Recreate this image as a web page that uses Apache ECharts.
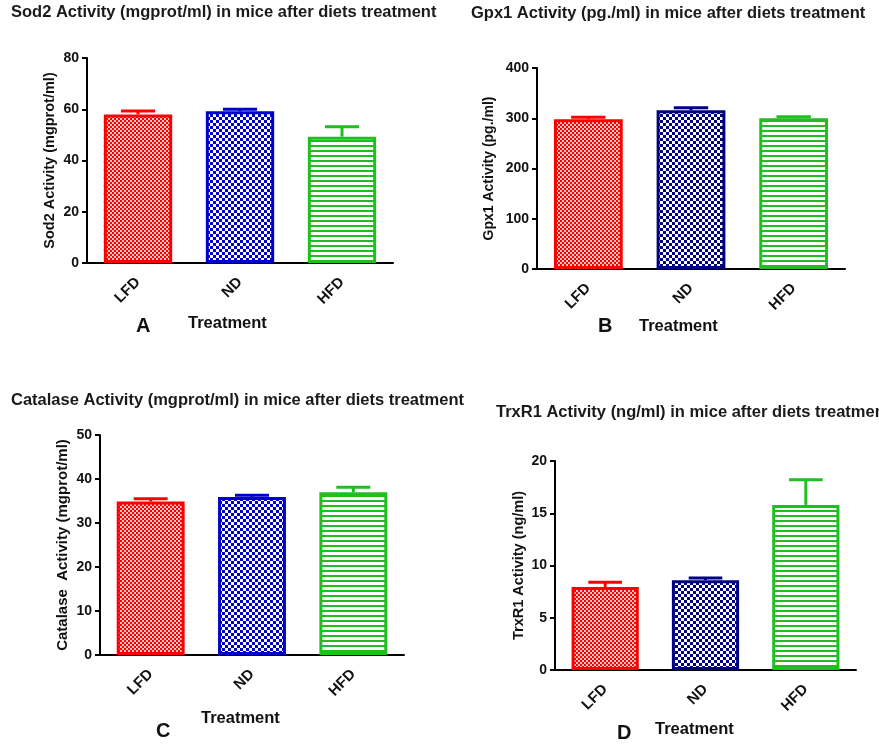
<!DOCTYPE html>
<html>
<head>
<meta charset="utf-8">
<title>Enzyme activity in mice after diets treatment</title>
<script src="https://cdn.jsdelivr.net/npm/echarts@6.0.0/dist/echarts.min.js"></script>
<style>
  html, body { margin: 0; padding: 0; background: #fff; }
  #chart { width: 879px; height: 744px; }
</style>
</head>
<body>
<div id="chart"></div>
<script>
  // groups on the x axis
  var diets = ['LFD', 'ND', 'HFD']

  // mean and SEM
  var sod2Mean = [58.0, 59.2, 49.3]
  var sod2Err = [1.3, 0.8, 3.9]
  var gpx1Mean = [298, 316, 300]
  var gpx1Err = [4, 5, 3]
  var catMean = [34.9, 35.9, 37.0]
  var catErr = [0.6, 0.4, 1.1]
  var trxMean = [7.95, 8.6, 15.8]
  var trxErr = [0.45, 0.2, 2.4]

  // y axis range: [max, step]
  var sod2Axis = [80, 20]
  var gpx1Axis = [400, 100]
  var catAxis = [50, 10]
  var trxAxis = [20, 5]

  var FONT = '"Liberation Sans", Arial, sans-serif'
  var RED = '#ff0000'
  var GREEN = '#1fbf1f'

  // fill patterns like the graphpad bars
  function checker (color, back, cell) {
    var c = document.createElement('canvas')
    c.width = c.height = cell * 2
    var ctx = c.getContext('2d')
    ctx.fillStyle = back
    ctx.fillRect(0, 0, cell * 2, cell * 2)
    ctx.fillStyle = color
    ctx.fillRect(0, 0, cell, cell)
    ctx.fillRect(cell, cell, cell, cell)
    return {image: c, repeat: 'repeat'}
  }
  function hlines (color, period, thick) {
    var c = document.createElement('canvas')
    c.width = 4
    c.height = period
    var ctx = c.getContext('2d')
    ctx.fillStyle = '#fff'
    ctx.fillRect(0, 0, 4, period)
    ctx.fillStyle = color
    ctx.fillRect(0, 0, 4, thick)
    return {image: c, repeat: 'repeat'}
  }

  var panels = [
    {title: 'Sod2 Activity (mgprot/ml) in mice after diets treatment', yName: 'Sod2 Activity (mgprot/ml)',
      mean: sod2Mean, err: sod2Err, axis: sod2Axis, blue: '#0000cc', nameSize: 14.5, nameGap: 30,
      grid: {left: 87, top: 58, width: 306, height: 205},
      titlePos: [11, 4], letter: 'A', letterPos: [136, 316], xNamePos: [188, 315]},
    {title: 'Gpx1 Activity (pg./ml) in mice after diets treatment', yName: 'Gpx1 Activity (pg./ml)',
      mean: gpx1Mean, err: gpx1Err, axis: gpx1Axis, blue: '#000080', nameSize: 14, nameGap: 41,
      grid: {left: 537, top: 68, width: 308, height: 201},
      titlePos: [471, 5], letter: 'B', letterPos: [598, 316], xNamePos: [639, 318]},
    {title: 'Catalase Activity (mgprot/ml) in mice after diets treatment', yName: 'Catalase  Activity (mgprot/ml)',
      mean: catMean, err: catErr, axis: catAxis, blue: '#0000cc', nameSize: 15, nameGap: 30,
      grid: {left: 100, top: 435, width: 304, height: 220},
      titlePos: [11, 392], letter: 'C', letterPos: [156, 721], xNamePos: [201, 710]},
    {title: 'TrxR1 Activity (ng/ml) in mice after diets treatment', yName: 'TrxR1 Activity (ng/ml)',
      mean: trxMean, err: trxErr, axis: trxAxis, blue: '#000080', nameSize: 14.5, nameGap: 29,
      grid: {left: 555, top: 461, width: 301, height: 209},
      titlePos: [496, 404], letter: 'D', letterPos: [617, 723], xNamePos: [655, 721]}
  ]

  // upper error bar only (stem + cap)
  function renderErr (params, api) {
    var idx = api.value(0)
    var base = api.coord([idx, api.value(1)])
    var top = api.coord([idx, api.value(2)])
    var half = api.size([1, 0])[0] * 0.67 * 0.25
    var style = {stroke: api.visual('color'), lineWidth: 3}
    return {
      type: 'group',
      children: [
        {type: 'line', shape: {x1: base[0], y1: base[1], x2: top[0], y2: top[1]}, style: style},
        {type: 'line', shape: {x1: top[0] - half, y1: top[1], x2: top[0] + half, y2: top[1]}, style: style}
      ]
    }
  }

  var option = {
    animation: false,
    backgroundColor: '#fff',
    title: [],
    grid: [],
    xAxis: [],
    yAxis: [],
    series: []
  }

  panels.forEach(function (p, k) {
    var colors = [RED, p.blue, GREEN]
    var fills = [checker(RED, '#ffc4c4', 2), checker(p.blue, '#fff', 3), hlines(GREEN, 5, 2)]

    option.title.push(
      {text: p.title, left: p.titlePos[0], top: p.titlePos[1], padding: 0,
        textStyle: {fontFamily: FONT, fontSize: 16.5, fontWeight: 'bold', color: '#1a1a1a'}},
      {text: p.letter, left: p.letterPos[0], top: p.letterPos[1], padding: 0,
        textStyle: {fontFamily: FONT, fontSize: 20, fontWeight: 'bold', color: '#111'}},
      {text: 'Treatment', left: p.xNamePos[0], top: p.xNamePos[1], padding: 0,
        textStyle: {fontFamily: FONT, fontSize: 16.5, fontWeight: 'bold', color: '#111'}}
    )

    option.grid.push(p.grid)

    option.xAxis.push({
      type: 'category',
      gridIndex: k,
      data: diets,
      axisLine: {lineStyle: {color: '#000', width: 2}},
      axisTick: {alignWithLabel: true, length: 6, lineStyle: {color: '#000', width: 2}},
      axisLabel: {rotate: 45, margin: 17, color: '#111', fontFamily: FONT, fontSize: 15, fontWeight: 'bold'},
      splitLine: {show: false}
    })

    option.yAxis.push({
      type: 'value',
      gridIndex: k,
      min: 0,
      max: p.axis[0],
      interval: p.axis[1],
      name: p.yName,
      nameLocation: 'middle',
      nameGap: p.nameGap,
      nameTextStyle: {fontFamily: FONT, fontSize: p.nameSize, fontWeight: 'bold', color: '#111'},
      axisLine: {show: true, lineStyle: {color: '#000', width: 2}},
      axisTick: {show: true, length: 5, lineStyle: {color: '#000', width: 2}},
      axisLabel: {margin: 8, color: '#111', fontFamily: FONT, fontSize: 14, fontWeight: 'bold'},
      splitLine: {show: false}
    })

    option.series.push({
      type: 'bar',
      xAxisIndex: k,
      yAxisIndex: k,
      barWidth: '67%',
      z: 2,
      data: p.mean.map(function (v, i) {
        return {value: v, itemStyle: {color: fills[i], borderColor: colors[i], borderWidth: 3}}
      })
    })

    option.series.push({
      type: 'custom',
      xAxisIndex: k,
      yAxisIndex: k,
      z: 3,
      renderItem: renderErr,
      data: p.mean.map(function (v, i) {
        return {value: [i, v, v + p.err[i]], itemStyle: {color: colors[i]}}
      })
    })
  })

  var myChart = echarts.init(document.getElementById('chart'))
  myChart.setOption(option)
</script>
</body>
</html>
